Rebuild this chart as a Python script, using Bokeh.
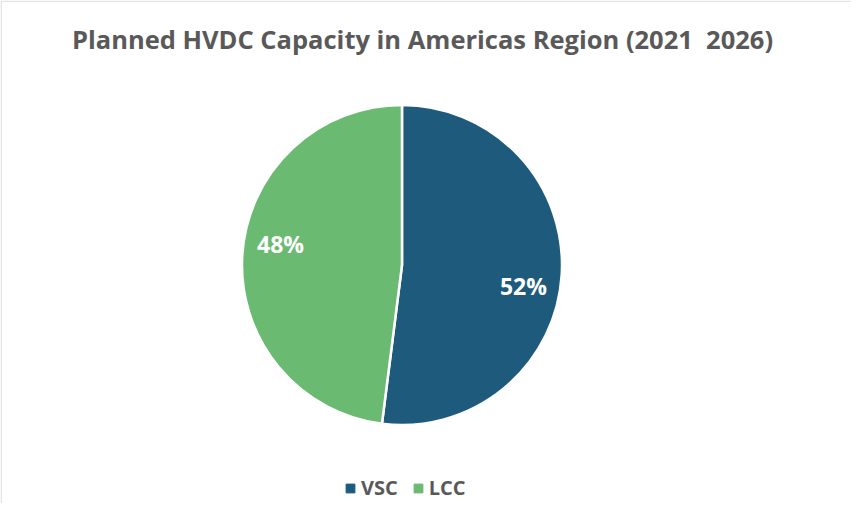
import math
from bokeh.plotting import figure
from bokeh.models import ColumnDataSource, Range1d, Label, Legend, LegendItem, BoxAnnotation
from bokeh.embed import file_html
from bokeh.resources import INLINE
from bokeh.core.properties import value

# ---- data ----
title_text = "Planned HVDC Capacity in Americas Region (2021\u00a0 2026)"
categories = ["VSC", "LCC"]
shares = [52, 48]
colors = ["#1E5A7B", "#6BBA72"]

# ---- layout / style ----
W, H = 851, 503
CX, CY, R = 401.5, 238.5, 160
LABEL_R = 0.77
LABEL_OFFSET = math.radians(-6)
FONT = "Open Sans"
GRAY = "#595959"

total = float(sum(shares))
starts, ends, lx, ly, texts = [], [], [], [], []
cum = 0.0
for s in shares:
    a0 = math.pi / 2 - 2 * math.pi * cum / total
    cum += s
    a1 = math.pi / 2 - 2 * math.pi * cum / total
    starts.append(a0)
    ends.append(a1)
    mid = (a0 + a1) / 2 + LABEL_OFFSET
    lx.append(CX + LABEL_R * R * math.cos(mid))
    ly.append(CY + LABEL_R * R * math.sin(mid))
    texts.append(f"{round(100 * s / total)}%")

src = ColumnDataSource(dict(cat=categories, share=shares, color=colors,
                            start=starts, end=ends, lx=lx, ly=ly, txt=texts))

p = figure(width=W, height=H, x_range=Range1d(0, W), y_range=Range1d(0, H),
           output_backend="svg", toolbar_location=None, tools="",
           x_axis_type=None, y_axis_type=None, min_border=0)
p.grid.visible = False
p.outline_line_color = None
p.background_fill_color = "white"
p.border_fill_color = "white"

# chart border (top/left visible, right/bottom run past the window)
p.add_layout(BoxAnnotation(left=0.7, right=W + 60, bottom=-60, top=H - 0.7,
                           fill_alpha=0, line_color="#a6a6a6", line_width=1.5))

p.wedge(x=CX, y=CY, radius=R, start_angle="start", end_angle="end",
        direction="clock", fill_color="color", line_color="white",
        line_width=2.5, source=src)

p.text(x="lx", y="ly", text="txt", source=src, text_color="white",
       text_font=value(FONT), text_font_style="bold", text_font_size="23px",
       text_align="center", text_baseline="middle")

p.add_layout(Label(x=422, y=465, text=title_text, text_font=FONT,
                   text_font_style="bold", text_font_size="25.5px",
                   text_color=GRAY, text_align="center",
                   text_baseline="alphabetic"))

# legend
items = []
for i, (c, col) in enumerate(zip(categories, colors)):
    r = p.scatter(x=[float("nan")], y=[float("nan")], marker="square",
                  size=8, fill_color=col, line_color=col)
    items.append(LegendItem(label=c, renderers=[r]))
legend = Legend(items=items, orientation="horizontal", location=(339, 2),
                glyph_width=22, glyph_height=22, label_standoff=0, spacing=9,
                padding=0, margin=0, border_line_color=None,
                background_fill_alpha=0, label_text_font=FONT,
                label_text_font_style="bold", label_text_font_size="20px",
                label_text_color=GRAY)
p.add_layout(legend)

open("out.html", "w").write(file_html(p, INLINE))
